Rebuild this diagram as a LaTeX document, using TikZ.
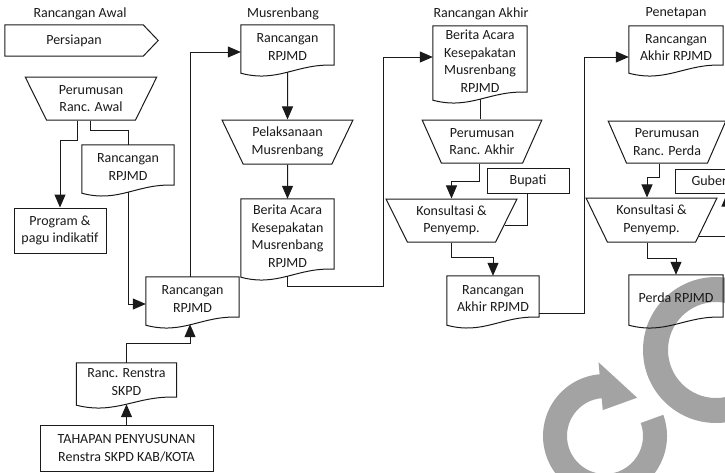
\documentclass[tikz,border=0pt]{standalone}
\usepackage{fontspec}
\setmainfont{Carlito}
\usetikzlibrary{arrows.meta,shapes.geometric,calc}
\definecolor{ink}{RGB}{26,26,26}
\definecolor{mark}{RGB}{163,163,163}
\tikzset{
  ln/.style={draw=ink, line width=1pt},
  arr/.style={ln, -{Triangle[length=13pt,width=11pt]}},
  txt/.style={font=\fontsize{14}{17.5}\selectfont, text=ink, align=center, inner sep=0pt},
  docbox/.style={txt, rectangle},
  box/.style={txt, rectangle, ln},
  trap/.style={txt, trapezium, ln, trapezium stretches=true,
    trapezium left angle=120, trapezium right angle=120},
  wm/.style={fill=mark}
}
% outline of a document symbol: straight top and sides, wavy bottom edge
\newcommand{\docout}[1]{%
  \draw[ln] ([yshift=-4pt]#1.south west) -- (#1.north west) -- (#1.north east)
    -- ([yshift=4pt]#1.south east)
    .. controls ($(#1.south west)!0.6!(#1.south east)+(0,-6)$)
       and ($(#1.south west)!0.4!(#1.south east)+(0,14)$)
    .. ([yshift=-4pt]#1.south west) -- cycle;}
\begin{document}
\begin{tikzpicture}[x=1pt,y=-1pt]
\useasboundingbox (0,0) rectangle (725,472);
\clip (0,0) rectangle (725,472);

% grey rings in the lower right corner
\fill[wm, even odd rule] (716,350) circle[radius=73] (716,350) circle[radius=48];
\fill[wm] ($(605,436)+(-20:62)$) arc[start angle=-20,end angle=265,radius=62]
  -- ($(605,436)+(265:74)$) -- ($(605,436)+(310:50)$) -- ($(605,436)+(265:26)$)
  -- ($(605,436)+(265:38)$) arc[start angle=265,end angle=-20,radius=38] -- cycle;

% phase headings
\node[txt] (lab1) at (80,14) {Rancangan Awal};
\node[txt] (lab2) at (283,14) {Musrenbang};
\node[txt] (lab3) at (481,14) {Rancangan Akhir};
\node[txt] (lab4) at (676,13) {Penetapan};

% phase 1: Rancangan Awal
\node[docbox, minimum width=138pt, minimum height=31pt] (prep) at (74,40.5) {Persiapan};
\draw[ln] (prep.north west) -- (prep.north east) -- ([xshift=15pt]prep.east)
  -- (prep.south east) -- (prep.south west) -- cycle;
\node[trap, minimum width=132pt, minimum height=43pt] (t1) at (91,98.5) {Perumusan\\Ranc. Awal};
\node[docbox, minimum width=92pt, minimum height=44pt] (d1) at (128,167) {Rancangan\\RPJMD};
\docout{d1}
\node[box, minimum width=92pt, minimum height=45pt] (prog) at (60,230.5) {Program \&\\pagu indikatif};
\node[docbox, minimum width=93pt, minimum height=44pt] (d2) at (192.5,299) {Rancangan\\RPJMD};
\docout{d2}
\node[docbox, minimum width=100pt, minimum height=38pt] (d3) at (126.5,382) {Ranc. Renstra\\SKPD};
\docout{d3}
\node[box, minimum width=173pt, minimum height=46pt] (tahap) at (126.5,448) {TAHAPAN PENYUSUNAN\\Renstra SKPD KAB/KOTA};

% phase 2: Musrenbang
\node[docbox, minimum width=93pt, minimum height=44pt] (d4) at (287.5,47) {Rancangan\\RPJMD};
\docout{d4}
\node[trap, minimum width=131pt, minimum height=44pt] (t2) at (287.5,142) {Pelaksanaan\\Musrenbang};
\node[docbox, minimum width=93pt, minimum height=74pt] (d5) at (287.5,236) {Berita Acara\\Kesepakatan\\Musrenbang\\RPJMD};
\docout{d5}

% phase 3: Rancangan Akhir
\node[docbox, minimum width=94pt, minimum height=70pt] (d6) at (480,61) {Berita Acara\\Kesepakatan\\Musrenbang\\RPJMD};
\docout{d6}
\node[trap, minimum width=120pt, minimum height=43pt] (t3) at (482,141.5) {Perumusan\\Ranc. Akhir};
\node[box, minimum width=82pt, minimum height=25pt] (bupati) at (528,180.5) {Bupati};
\node[trap, minimum width=131pt, minimum height=43pt] (t4) at (451.5,220.5) {Konsultasi \&\\Penyemp.};
\node[docbox, minimum width=92pt, minimum height=45pt] (d7) at (493,298.5) {Rancangan\\Akhir RPJMD};
\docout{d7}

% phase 4: Penetapan
\node[docbox, minimum width=94pt, minimum height=43pt] (d8) at (676,47.5) {Rancangan\\Akhir RPJMD};
\docout{d8}
\node[trap, minimum width=118pt, minimum height=42pt] (t5) at (667,142) {Perumusan\\Ranc. Perda};
\node[box, minimum width=88pt, minimum height=24pt] (gub) at (719,181) {Gubernur};
\node[trap, minimum width=131pt, minimum height=44pt] (t6) at (651.5,220) {Konsultasi \&\\Penyemp.};
\node[docbox, minimum width=94pt, minimum height=46pt] (d9) at (676,298) {Perda RPJMD};
\docout{d9}

% connectors
\draw[arr] ([xshift=-14pt]t1.south) -- ++(0,20) -| (prog.north);
\draw[ln] ([xshift=-1pt]t1.south) -- ++(0,10) -| (d1.north);
\draw[arr] ([yshift=-3pt]d1.south) |- ([yshift=-5pt]d2.west);
\draw[arr] ([xshift=-2.5pt]d2.north) |- ([yshift=-5pt]d4.west);
\draw[arr] (d3.north) -- ++(0,-19) -| ([xshift=-2.5pt,yshift=-3pt]d2.south);
\draw[arr] (tahap.north) -- ([yshift=-3pt]d3.south);

\draw[arr] ([yshift=-3pt]d4.south) -- (t2.north);
\draw[arr] (t2.south) -- (d5.north);
\draw[arr] ([yshift=-3pt]d5.south) -- ++(0,10) -- ++(96,0) |- ([yshift=4pt]d6.west);

\draw[ln] ([yshift=-3pt]d6.south) -- (d6.south |- t3.north);
\draw[arr] ([xshift=-3pt]t3.south) -- ++(0,18) -| (t4.north);
\draw[ln] ([xshift=-1pt]bupati.south) |- (t4.-5);
\draw[arr] (t4.south) -- ++(0,15) -| (d7.north);
\draw[arr] ([yshift=-14.5pt]d7.east) -- ++(45,0) |- ([yshift=-9.5pt]d8.west);

\draw[arr] ([xshift=-8pt]t5.south) -- ++(0,14) -| ([xshift=-4.5pt]t6.north);
\draw[arr] ([xshift=-4.5pt]t6.south) -- ++(0,16) -| (d9.north);
\draw[arr] (t6.-19) -| ([xshift=8pt]gub.south);
\end{tikzpicture}
\end{document}
